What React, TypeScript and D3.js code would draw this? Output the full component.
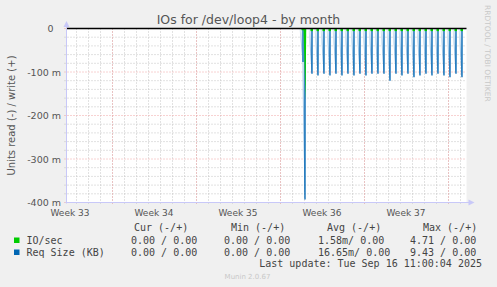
import React from "react";
import * as d3 from "d3";

const W = 497;
const H = 287;

// time window (UTC) of the month graph
const END = Date.UTC(2025, 8, 16, 13, 0);
const START = END - 800 * 3600 * 1000;

// spike times (UTC) and values (in milli-units, read side => negative)
const spikeTimes: string[] = [
  "2025-09-02T22:00Z", "2025-09-03T02:00Z",
  "2025-09-03T16:00Z", "2025-09-04T04:00Z", "2025-09-04T16:00Z", "2025-09-05T04:00Z",
  "2025-09-05T16:00Z", "2025-09-06T04:00Z", "2025-09-06T16:00Z", "2025-09-07T04:00Z",
  "2025-09-07T16:00Z", "2025-09-08T04:00Z", "2025-09-08T16:00Z", "2025-09-09T04:00Z",
  "2025-09-09T16:00Z", "2025-09-10T04:00Z", "2025-09-10T16:00Z", "2025-09-11T04:00Z",
  "2025-09-11T16:00Z", "2025-09-12T04:00Z", "2025-09-12T16:00Z", "2025-09-13T04:00Z",
  "2025-09-13T16:00Z", "2025-09-14T04:00Z", "2025-09-14T16:00Z", "2025-09-15T04:00Z",
  "2025-09-15T16:00Z", "2025-09-16T04:00Z",
];
const reqSize: number[] = [
  -77, -393,
  -104, -108, -104, -108, -104, -108, -104, -108, -104, -108, -104, -104,
  -104, -120, -104, -108, -104, -112, -108, -104, -108, -104, -108, -112,
  -104, -112,
];
const ioSec: number[] = [
  -4, -165,
  -6, -6, -6, -6, -6, -6, -6, -6, -6, -6, -6, -6,
  -6, -6, -6, -6, -6, -6, -6, -6, -6, -6, -6, -6,
  -6, -6,
];

const yTicks: number[] = [0, -100, -200, -300, -400];
const yTickLabels: string[] = ["0", "-100 m", "-200 m", "-300 m", "-400 m"];
const weekLabels: string[] = ["Week 33", "Week 34", "Week 35", "Week 36", "Week 37"];
const weekLabelTimes: string[] = [
  "2025-08-14T12:00Z", "2025-08-21T12:00Z", "2025-08-28T12:00Z",
  "2025-09-04T12:00Z", "2025-09-11T12:00Z",
];

const legendNames: string[] = ["IO/sec", "Req Size (KB)"];
const legendColors: string[] = ["#00cc00", "#0066b3"];
const legendHeaders: string[] = ["Cur (-/+)", "Min (-/+)", "Avg (-/+)", "Max (-/+)"];
const legendCur: string[] = ["0.00 / 0.00", "0.00 / 0.00"];
const legendMin: string[] = ["0.00 / 0.00", "0.00 / 0.00"];
const legendAvg: string[] = ["1.58m/ 0.00", "16.65m/ 0.00"];
const legendMax: string[] = ["4.71 / 0.00", "9.43 / 0.00"];

const HOUR = 3600 * 1000;

export default function App() {
  const x = d3.scaleUtc().domain([new Date(START), new Date(END)]).range([66.5, 466.5]);
  const y = d3.scaleLinear().domain([-400, 0]).range([202.5, 28.5]);

  const days = d3.utcDay.range(new Date(START), new Date(END));
  const mondays = d3.utcMonday.range(new Date(START), new Date(END));
  const minorY = d3.range(-400, 1, 20);

  const left = 66.5, right = 466.5, top = 28.5, bottom = 202.5;

  const areaGen = d3.area<[number, number]>().x(d => d[0]).y0(y(0)).y1(d => d[1]);

  const spikes = spikeTimes.map((s, i) => {
    const t = new Date(s).getTime();
    return { t, v: reqSize[i], g: ioSec[i] };
  });

  const cols = [
    { h: 134, v: 131, data: legendCur },
    { h: 231, v: 224, data: legendMin },
    { h: 327, v: 318, data: legendAvg },
    { h: 423, v: 410, data: legendMax },
  ];

  return (
    <svg width={W} height={H} style={{ position: "absolute", left: 0, top: 0 }}
      fontFamily="DejaVu Sans">
      <defs>
        <linearGradient id="spk" x1="0" y1="0" x2="0" y2="1">
          <stop offset="0" stopColor="#e6f0f8" />
          <stop offset="0.5" stopColor="#9cc3e4" />
          <stop offset="1" stopColor="#4a8fcc" />
        </linearGradient>
      </defs>
      <rect x={0} y={0} width={W} height={H} fill="#f0f0f0" />
      <rect x={left} y={top} width={right - left} height={bottom - top} fill="#ffffff" />

      {/* minor grid */}
      {minorY.filter(v => v % 100 !== 0).map(v => (
        <line key={"my" + v} x1={left - 2} x2={right} y1={y(v)} y2={y(v)}
          stroke="#c4c4c4" strokeDasharray="1,2" />
      ))}
      {days.map(d => (
        <line key={"md" + d.getTime()} x1={Math.round(x(d)) + 0.5} x2={Math.round(x(d)) + 0.5}
          y1={top} y2={bottom + 2} stroke="#c4c4c4" strokeDasharray="1,2" />
      ))}
      {/* major grid */}
      {yTicks.map(v => (
        <line key={"My" + v} x1={left - 2} x2={right} y1={y(v)} y2={y(v)}
          stroke="#f0a4a4" strokeDasharray="1,2" />
      ))}
      {mondays.map(d => (
        <line key={"Md" + d.getTime()} x1={Math.round(x(d)) + 0.5} x2={Math.round(x(d)) + 0.5}
          y1={top} y2={bottom + 2} stroke="#f0a4a4" strokeDasharray="1,2" />
      ))}

      {/* Req Size spikes */}
      {spikes.map((s, i) => {
        const pts: [number, number][] = [
          [x(new Date(s.t - 7 * HOUR)), y(0)],
          [x(new Date(s.t - 1 * HOUR)), y(s.v * 0.95)],
          [x(new Date(s.t)), y(s.v)],
          [x(new Date(s.t + 1 * HOUR)), y(0)],
        ];
        return <path key={"a" + i} d={areaGen(pts) || ""} fill="url(#spk)" stroke="none" />;
      })}
      {spikes.map((s, i) => (
        <line key={"l" + i} x1={x(new Date(s.t))} x2={x(new Date(s.t))} y1={y(0)} y2={y(s.v)}
          stroke="#0066b3" strokeWidth={1.3} />
      ))}
      {/* IO/sec */}
      {spikes.map((s, i) => {
        const pts: [number, number][] = [
          [x(new Date(s.t - 3 * HOUR)), y(0)],
          [x(new Date(s.t + 1 * HOUR)), y(s.g)],
          [x(new Date(s.t + 2.5 * HOUR)), y(0)],
        ];
        const d = s.g < -50
          ? areaGen(pts)
          : `M${x(new Date(s.t - 3 * HOUR))},${y(0)}V${y(s.g)}H${x(new Date(s.t + 2 * HOUR))}V${y(0)}Z`;
        return <path key={"g" + i} d={d || ""} fill="#00cc00" />;
      })}

      {/* zero line */}
      <line x1={left} x2={right} y1={y(0)} y2={y(0)} stroke="#000" strokeWidth={1.5} />

      {/* axes */}
      <line x1={left} x2={left} y1={bottom + 1} y2={22} stroke="#c8c8f8" strokeWidth={1} />
      <path d={`M${left - 3},27 L${left + 3},27 L${left},21 Z`} fill="#c8c8f8" />
      <line x1={left - 1} x2={right + 4} y1={bottom} y2={bottom} stroke="#c8c8f8" strokeWidth={1} />
      <path d={`M${right + 2},${bottom - 3} L${right + 2},${bottom + 3} L${right + 8},${bottom} Z`} fill="#c8c8f8" />

      {/* y tick labels */}
      {yTicks.map((v, i) => (
        <text key={"yt" + v} x={v === 0 ? 53.5 : 61} y={y(v) + 3.5} fontSize={9.5} textAnchor="end" fill="#555">
          {yTickLabels[i]}
        </text>
      ))}
      {/* x labels */}
      {weekLabels.map((w, i) => (
        <text key={w} x={x(new Date(weekLabelTimes[i]))} y={216} fontSize={9} textAnchor="middle" fill="#555">
          {w}
        </text>
      ))}

      {/* title */}
      <text x={248.5} y={24} fontSize={12.5} textAnchor="middle" fill="#555">IOs for /dev/loop4 - by month</text>
      {/* y label */}
      <text transform="translate(14.5,115.5) rotate(-90)" fontSize={10} textAnchor="middle" fill="#555">
        Units read (-) / write (+)
      </text>
      {/* rrdtool tag */}
      <text transform="translate(484.5,5) rotate(90)" fontSize={7.5} fill="#c8c8c8">RRDTOOL / TOBI OETIKER</text>

      {/* legend */}
      <g fontFamily="DejaVu Sans Mono" fontSize={10} fill="#444">
        {legendHeaders.map((h, i) => (
          <text key={h} x={cols[i].h} y={231}>{h}</text>
        ))}
        {legendNames.map((n, r) => (
          <g key={n}>
            <rect x={14} y={237.5 + r * 12} width={5.5} height={5.5} fill={legendColors[r]} />
            <text x={26.5} y={243.5 + r * 12}>{n}</text>
            {cols.map((c, ci) => (
              <text key={ci} x={c.v} y={243.5 + r * 12}>{c.data[r]}</text>
            ))}
          </g>
        ))}
        <text x={482} y={266.5} textAnchor="end">Last update: Tue Sep 16 11:00:04 2025</text>
      </g>
      <text x={247.5} y={279} fontSize={7} textAnchor="middle" fill="#c8c8c8">Munin 2.0.67</text>
    </svg>
  );
}
